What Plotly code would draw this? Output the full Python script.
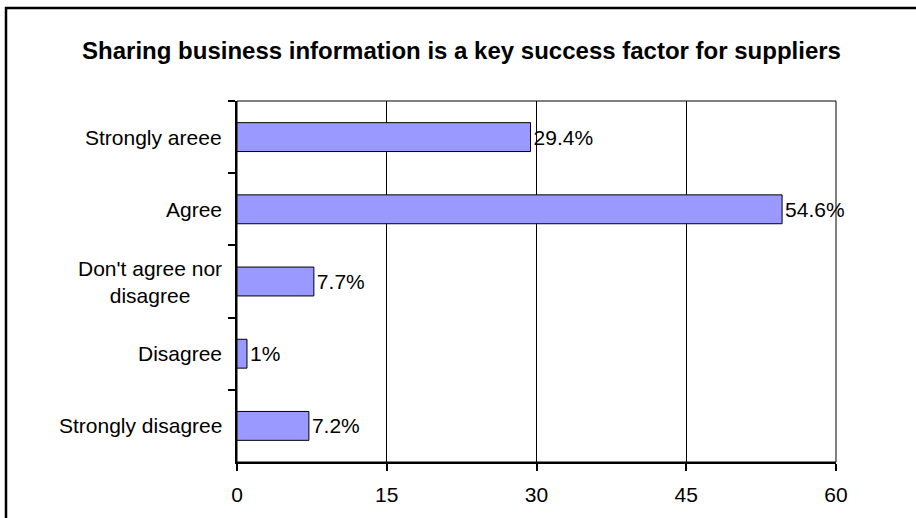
import plotly.graph_objects as go

categories = ["Strongly areee", "Agree", "Don't agree nor disagree", "Disagree", "Strongly disagree"]
category_labels = ["Strongly areee", "Agree", "Don't agree nor<br>disagree", "Disagree", "Strongly disagree"]
values = [29.4, 54.6, 7.7, 1, 7.2]
x_ticks = [0, 15, 30, 45, 60]
title = "Sharing business information is a key success factor for suppliers"

W, H = 916, 518
L, R, T, B = 237, 80, 101, 56
pw, ph = W - L - R, H - T - B

fig = go.Figure()
fig.add_trace(go.Bar(
    y=categories, x=values, orientation="h",
    marker=dict(color="#9999FF", line=dict(color="#000000", width=1)),
    width=0.4,
    text=[f"{v:g}%" for v in values],
    textposition="outside",
    textfont=dict(family="Liberation Sans, Arial", size=21, color="black"),
    cliponaxis=False,
    hoverinfo="skip",
))

for cat, lab in zip(categories, category_labels):
    fig.add_annotation(
        x=0, xref="paper", y=cat, yref="y", text=lab, showarrow=False,
        xanchor="right", yanchor="middle", align="center", xshift=-13,
        font=dict(family="Liberation Sans, Arial", size=21, color="black"),
    )

shapes = [
    # plot area frame (top and right)
    dict(type="rect", xref="paper", yref="paper", x0=0, x1=1, y0=0, y1=1,
         line=dict(color="black", width=1), layer="below"),
    # outer chart border
    dict(type="rect", xref="paper", yref="paper",
         x0=(6 - L) / pw, x1=(940 - L) / pw,
         y0=-(H + 20 - (T + ph)) / ph, y1=((T + ph) - 8) / ph,
         line=dict(color="black", width=2.5), layer="below"),
]

fig.update_layout(
    width=W, height=H,
    margin=dict(l=L, r=R, t=T, b=B),
    paper_bgcolor="white", plot_bgcolor="white",
    showlegend=False,
    shapes=shapes,
    title=dict(text=f"<b>{title}</b>", x=461.5 / W, xref="container", xanchor="center",
               y=1 - 51 / H, yref="container", yanchor="middle",
               font=dict(family="Liberation Sans, Arial", size=24, color="black")),
    xaxis=dict(range=[0, 60], tickvals=x_ticks, showgrid=True, gridcolor="black", gridwidth=1,
               zeroline=False, showline=True, linecolor="black", linewidth=2,
               ticks="outside", ticklen=7, tickwidth=2, tickcolor="black",
               tickfont=dict(family="Liberation Sans, Arial", size=21, color="black"),
               ticklabelstandoff=6, fixedrange=True),
    yaxis=dict(categoryorder="array", categoryarray=categories, autorange="reversed",
               type="category", showgrid=False, zeroline=False,
               showline=True, linecolor="black", linewidth=2,
               ticks="outside", ticklen=7, tickwidth=2, tickcolor="black",
               tickson="boundaries", showticklabels=False, fixedrange=True),
)

fig.write_html("out.html")
